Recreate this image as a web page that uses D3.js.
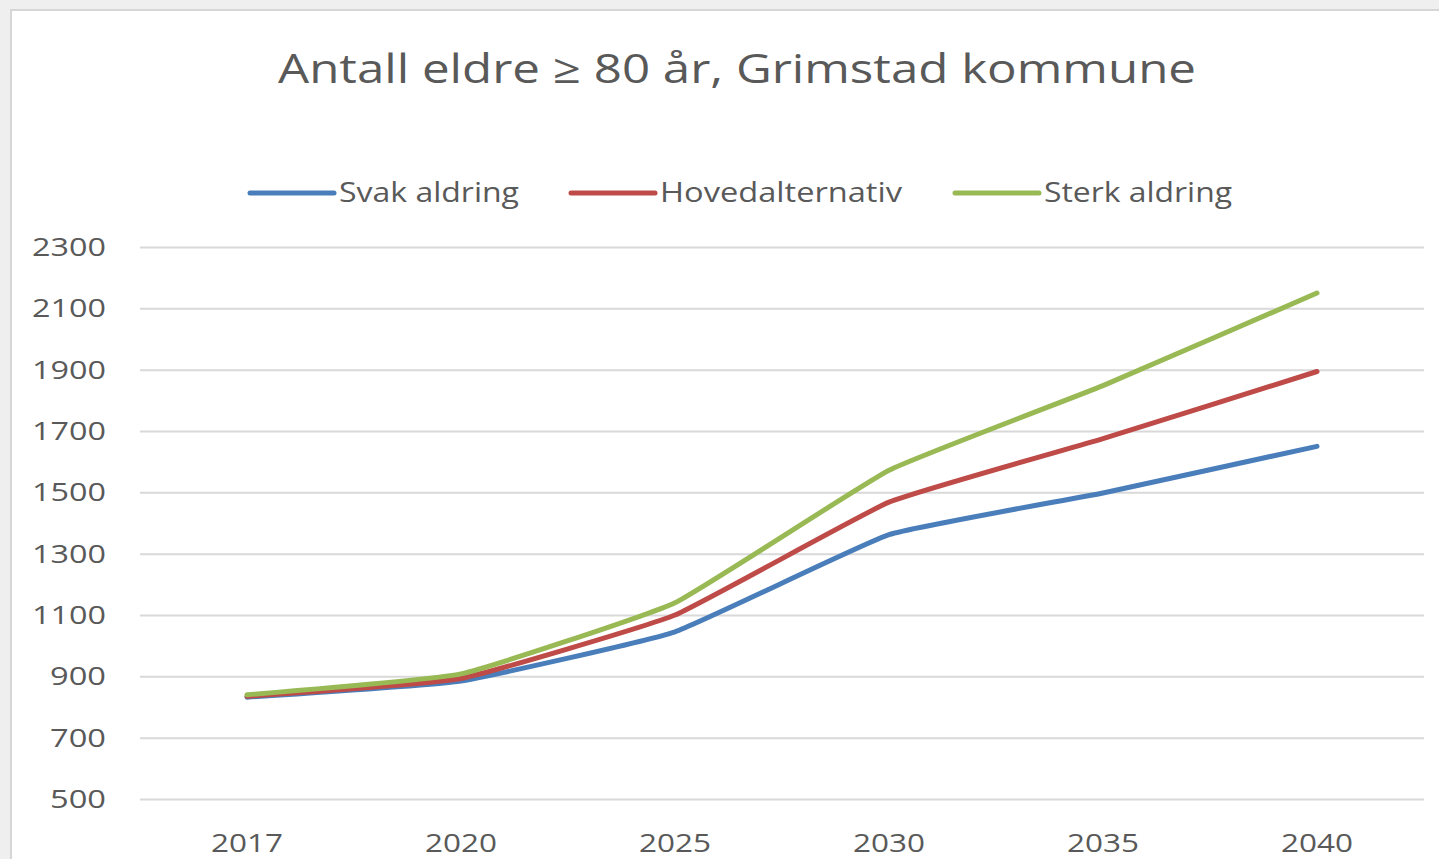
<!DOCTYPE html>
<html>
<head>
<meta charset="utf-8">
<script src="https://cdn.jsdelivr.net/npm/d3@7"></script>
<style>
  html, body { margin: 0; padding: 0; background: #efefef; }
  svg { display: block; }
</style>
</head>
<body>
<script>
var years = ["2017", "2020", "2025", "2030", "2035", "2040"];
var svak = [832, 885, 1045, 1362, 1498, 1650];
var hoved = [835, 893, 1100, 1468, 1675, 1894];
var sterk = [840, 908, 1140, 1572, 1848, 2150];
var seriesNames = ["Svak aldring", "Hovedalternativ", "Sterk aldring"];
var seriesColors = ["#4a7ebb", "#be4b48", "#98b954"];
var yTicks = [500, 700, 900, 1100, 1300, 1500, 1700, 1900, 2100, 2300];

var W = 1439, H = 859;
var font = "'Open Sans', 'DejaVu Sans', sans-serif";

var svg = d3.select("body").append("svg").attr("width", W).attr("height", H);

// grå ramme rundt diagrammet
svg.append("rect").attr("x", 0).attr("y", 0).attr("width", W).attr("height", H).attr("fill", "#efefef");
svg.append("rect").attr("x", 11).attr("y", 10).attr("width", W).attr("height", H)
  .attr("fill", "#fff").attr("stroke", "#d6d6d6").attr("stroke-width", 2);

var x = d3.scaleBand().domain(years).range([140, 1424]).padding(0);
var y = d3.scaleLinear().domain([500, 2300]).range([799, 247]);

// tittel
svg.append("text")
  .attr("x", 737).attr("y", 83)
  .attr("text-anchor", "middle")
  .attr("font-family", font).attr("font-size", 40)
  .attr("fill", "#595959")
  .attr("textLength", 918).attr("lengthAdjust", "spacingAndGlyphs")
  .text("Antall eldre \u2265 80 år, Grimstad kommune");

// rutenett
var grid = svg.append("g")
  .attr("transform", "translate(140,0)")
  .call(d3.axisLeft(y).tickValues(yTicks).tickSize(-1284).tickFormat(""));
grid.select(".domain").remove();
grid.selectAll("line").attr("stroke", "#d9d9d9").attr("stroke-width", 2);

// y-akse etiketter
svg.append("g").selectAll("text").data(yTicks).enter().append("text")
  .attr("x", 106).attr("y", function (d) { return y(d) + 9; })
  .attr("text-anchor", "end")
  .attr("font-family", font).attr("font-size", 25)
  .attr("fill", "#595959")
  .attr("textLength", function (d) { return d >= 1000 ? 74 : 56; })
  .attr("lengthAdjust", "spacingAndGlyphs")
  .text(function (d) { return d; });

// x-akse etiketter
svg.append("g").selectAll("text").data(years).enter().append("text")
  .attr("x", function (d) { return x(d) + x.bandwidth() / 2; })
  .attr("y", 852)
  .attr("text-anchor", "middle")
  .attr("font-family", font).attr("font-size", 25)
  .attr("fill", "#595959")
  .attr("textLength", 72).attr("lengthAdjust", "spacingAndGlyphs")
  .text(function (d) { return d; });

// linjer, litt utglattet som i Excel
var series = [svak, hoved, sterk];
var line = d3.line()
  .x(function (d, i) { return x(years[i]) + x.bandwidth() / 2; })
  .y(function (d) { return y(d); })
  .curve(d3.curveCardinal.tension(0.65));

svg.append("g").selectAll("path").data(series).enter().append("path")
  .attr("d", line)
  .attr("fill", "none")
  .attr("stroke", function (d, i) { return seriesColors[i]; })
  .attr("stroke-width", 5)
  .attr("stroke-linecap", "round")
  .attr("stroke-linejoin", "round");

// tegnforklaring
var legendX = [250, 571, 955];
var legendW = [180, 242, 188];
var leg = svg.append("g").selectAll("g").data(seriesNames).enter().append("g");
leg.append("line")
  .attr("x1", function (d, i) { return legendX[i]; })
  .attr("x2", function (d, i) { return legendX[i] + 84; })
  .attr("y1", 193).attr("y2", 193)
  .attr("stroke", function (d, i) { return seriesColors[i]; })
  .attr("stroke-width", 5)
  .attr("stroke-linecap", "round");
leg.append("text")
  .attr("x", function (d, i) { return legendX[i] + 89; })
  .attr("y", 202)
  .attr("font-family", font).attr("font-size", 27)
  .attr("fill", "#595959")
  .attr("textLength", function (d, i) { return legendW[i]; })
  .attr("lengthAdjust", "spacingAndGlyphs")
  .text(function (d) { return d; });
</script>
</body>
</html>
